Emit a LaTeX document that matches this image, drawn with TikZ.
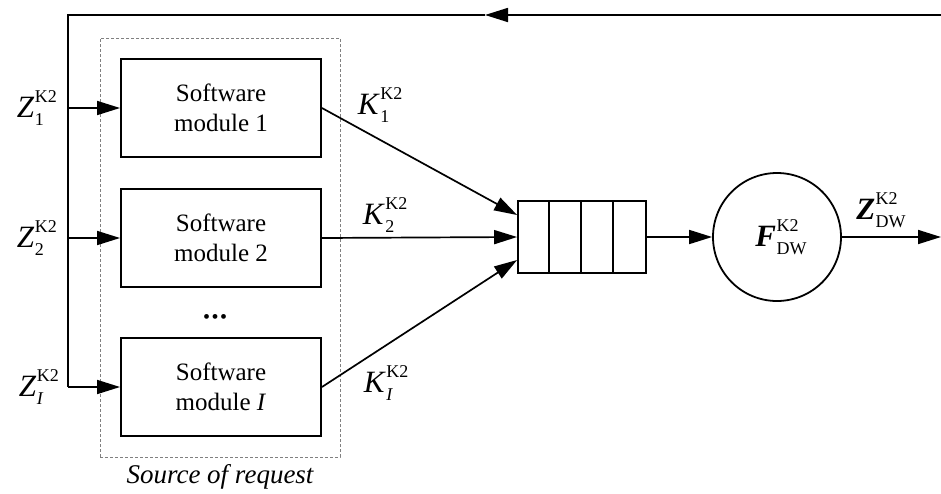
\documentclass[tikz,border=0pt]{standalone}
\usepackage{fontspec}
\setmainfont{Liberation Serif}
\usetikzlibrary{arrows.meta,calc}

% base, superscript, subscript
\newcommand{\kz}[3]{#1\kern0.5pt\rlap{\raisebox{-0.26em}{\fontsize{18}{18}\selectfont #3}}\raisebox{0.5em}{\fontsize{18}{18}\selectfont #2}}

\begin{document}
\begin{tikzpicture}[x=1pt,y=-1pt,
    modbox/.style={draw,line width=1.9pt,minimum width=200pt,minimum height=98pt,align=center,font=\fontsize{25}{30}\selectfont},
    lbl/.style={font=\fontsize{31}{36}\selectfont,inner sep=0pt},
    flow/.style={line width=1.7pt,-{Triangle[length=23pt,width=14pt]}},
    wire/.style={line width=1.7pt}]
    \useasboundingbox (0,0) rectangle (941,493);
    % Source of request
    \node[draw=gray,dash pattern=on 3pt off 2pt,line width=0.8pt,minimum width=240pt,minimum height=419pt] (src) at (220,247.5) {};
    \node[font=\fontsize{27}{32}\selectfont\itshape,anchor=north] (srclbl) at ($(src.south)+(0,4)$) {Source of request};
    \node[modbox] (m1) at (221,108) {Software\\module 1};
    \node[modbox] (m2) at (221,238) {Software\\module 2};
    \node[modbox] (mI) at (221,387) {Software\\module \textit{I}};
    \node[font=\fontsize{20}{24}\selectfont,inner sep=0pt] (dots) at (215,319) {\textbullet\kern1.5pt\textbullet\kern1.5pt\textbullet};
    % Queue and server
    \node[draw,line width=1.8pt,minimum width=128pt,minimum height=72pt,inner sep=0pt] (queue) at (582,237) {};
    \foreach \i in {1,2,3}
        \draw[line width=1.8pt] ($(queue.north west)+(32*\i,0)$) -- ($(queue.south west)+(32*\i,0)$);
    \node[draw,circle,line width=1.8pt,minimum size=128pt,lbl] (srv) at (777,237) {\kz{\textbf{\textit{F}}}{K2}{DW}};
    % Feedback line
    \coordinate (fbR) at (941,15);
    \coordinate (fbA) at (485,15);
    \coordinate (fbL) at (68,15);
    \coordinate (busI) at (68,387);
    \draw[flow] (fbR) -- (fbA);
    \draw[wire] (fbA) -- (fbL) -- (busI);
    \foreach \m in {m1,m2,mI}
        \draw[flow] (\m.west -| fbL) -- (\m.west);
    \node[lbl,anchor=east] (z1) at ($(m1.west -| fbL)+(-11,0)$) {\kz{\textit{Z}}{K2}{1}};
    \node[lbl,anchor=east] (z2) at ($(m2.west -| fbL)+(-11,0)$) {\kz{\textit{Z}}{K2}{2}};
    \node[lbl,anchor=east] (zI) at ($(mI.west -| fbL)+(-9,0)$) {\kz{\textit{Z}}{K2}{\textit{I}}};
    % Requests into queue
    \draw[flow] (m1.east) -- ([yshift=22pt]queue.west);
    \draw[flow] (m2.east) -- (queue.west);
    \draw[flow] (mI.east) -- ([yshift=-23pt]queue.west);
    \node[lbl] (k1) at (380,105) {\kz{\textit{K}}{K2}{1}};
    \node[lbl] (k2) at (385,215) {\kz{\textit{K}}{K2}{2}};
    \node[lbl] (kI) at (386,383) {\kz{\textit{K}}{K2}{\textit{I}}};
    % Output
    \coordinate (out) at (941,237);
    \draw[flow] (queue.east) -- (srv.west);
    \draw[flow] (srv.east) -- (out);
    \node[lbl] (zdw) at (877,210) {\kz{\textbf{\textit{Z}}}{K2}{DW}};
\end{tikzpicture}
\end{document}
